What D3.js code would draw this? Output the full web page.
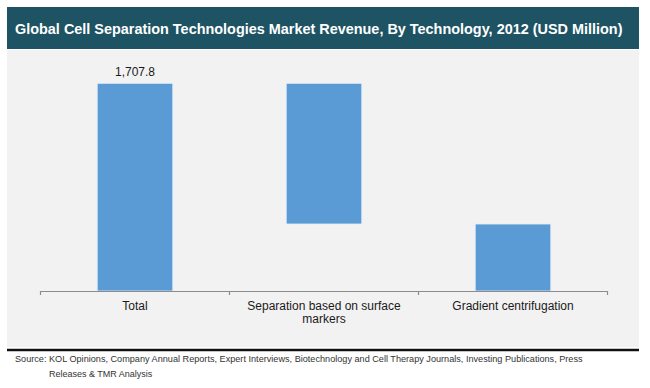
<!DOCTYPE html>
<html>
<head>
<meta charset="utf-8">
<script src="https://cdn.jsdelivr.net/npm/d3@7"></script>
<style>
  body { margin: 0; background: #fff; }
  svg { display: block; font-family: "Liberation Sans", Arial, sans-serif; }
</style>
</head>
<body>
<div id="container"></div>
<script>
// chart data
var categories = ["Total", "Separation based on surface markers", "Gradient centrifugation"];
var values = [1707.8, 1157.0, 550.8];
var titleText = "Global Cell Separation Technologies Market Revenue, By Technology, 2012 (USD Million)";
var sourceLines = ["Source: KOL Opinions, Company Annual Reports, Expert Interviews, Biotechnology and Cell Therapy Journals, Investing Publications, Press",
                   "Releases & TMR Analysis"];

var W = 650, H = 388;

var svg = d3.select("#container").append("svg")
    .attr("width", W)
    .attr("height", H);

// title bar
svg.append("rect")
    .attr("x", 7).attr("y", 7)
    .attr("width", 632).attr("height", 42)
    .style("fill", "#1e5364");

var title = svg.append("text")
    .attr("x", 15).attr("y", 34)
    .style("font-size", "15px")
    .style("font-weight", "bold")
    .style("fill", "#fff")
    .text(titleText);
// fit title width to reference
var tl = title.node().getComputedTextLength();
title.style("font-size", (15 * 608 / tl) + "px");

// plot panel
svg.append("rect")
    .attr("x", 7).attr("y", 50)
    .attr("width", 632).attr("height", 297)
    .style("fill", "#f2f2f2");

svg.append("line")
    .attr("x1", 7).attr("x2", 639)
    .attr("y1", 350).attr("y2", 350)
    .style("stroke", "#111")
    .style("stroke-width", 2.5);

// scales
var x = d3.scaleBand()
    .domain(categories)
    .range([40.5, 607.5])
    .paddingInner(0.6)
    .paddingOuter(0.3);

var y = d3.scaleLinear()
    .domain([0, 1800])
    .range([291, 291 - 207.7 * 1800 / 1707.8]);

// waterfall segments
var running = values[0];
var segs = categories.map(function(c, i) {
  if (i === 0) return {cat: c, y0: 0, y1: values[0], v: values[0]};
  var top = running;
  running = running - values[i];
  return {cat: c, y0: running, y1: top, v: values[i]};
});

svg.selectAll(".bar")
    .data(segs)
  .enter().append("rect")
    .attr("class", "bar")
    .attr("x", function(d) { return x(d.cat); })
    .attr("width", x.bandwidth())
    .attr("y", function(d) { return y(d.y1); })
    .attr("height", function(d) { return y(d.y0) - y(d.y1); })
    .style("fill", "#5b9bd5")
    .style("stroke", "#e4eef8")
    .style("stroke-width", 0.8);

// value label on total
svg.append("text")
    .attr("x", x(categories[0]) + x.bandwidth() / 2)
    .attr("y", 76)
    .style("text-anchor", "middle")
    .style("font-size", "12px")
    .style("fill", "#1a1a1a")
    .text(d3.format(",.1f")(values[0]));

// x axis
var xAxis = svg.append("g")
    .attr("transform", "translate(0,291)")
    .call(d3.axisBottom(x).tickSize(0).tickSizeOuter(0).tickPadding(10));
xAxis.select(".domain").style("stroke", "#8c8c8c").style("stroke-width", 1.2);
xAxis.selectAll("text")
    .style("font-family", "'Liberation Sans', Arial, sans-serif")
    .style("font-size", "12px")
    .style("fill", "#1a1a1a")
    .call(wrap, 160);

// boundary ticks
var bounds = categories.map(function(c) { return x(c) - x.step() * 0.3; });
bounds.push(x.range()[1]);
xAxis.selectAll(".btick")
    .data(bounds)
  .enter().append("line")
    .attr("class", "btick")
    .attr("x1", function(d) { return d; })
    .attr("x2", function(d) { return d; })
    .attr("y1", 0).attr("y2", 4)
    .style("stroke", "#8c8c8c")
    .style("stroke-width", 1.2);

// source
sourceLines.forEach(function(s, i) {
  var t = svg.append("text")
      .attr("x", i === 0 ? 15 : 49)
      .attr("y", i === 0 ? 362 : 377)
      .style("font-size", "9px")
      .style("fill", "#333")
      .text(s);
  if (i === 0) {
    var l = t.node().getComputedTextLength();
    t.style("font-size", (9 * 569 / l) + "px");
  }
});

function wrap(text, width) {
  text.each(function() {
    var text = d3.select(this),
        words = text.text().split(/\s+/).reverse(),
        word, line = [], lineNumber = 0,
        lineHeight = 13.7,
        yy = text.attr("y"),
        dy = parseFloat(text.attr("dy")),
        tspan = text.text(null).append("tspan").attr("x", 0).attr("y", yy).attr("dy", dy + "em");
    while (word = words.pop()) {
      line.push(word);
      tspan.text(line.join(" "));
      if (tspan.node().getComputedTextLength() > width && line.length > 1) {
        line.pop();
        tspan.text(line.join(" "));
        line = [word];
        tspan = text.append("tspan").attr("x", 0).attr("y", yy)
            .attr("dy", (++lineNumber * lineHeight / 12 + dy) + "em").text(word);
      }
    }
  });
}
</script>
</body>
</html>
